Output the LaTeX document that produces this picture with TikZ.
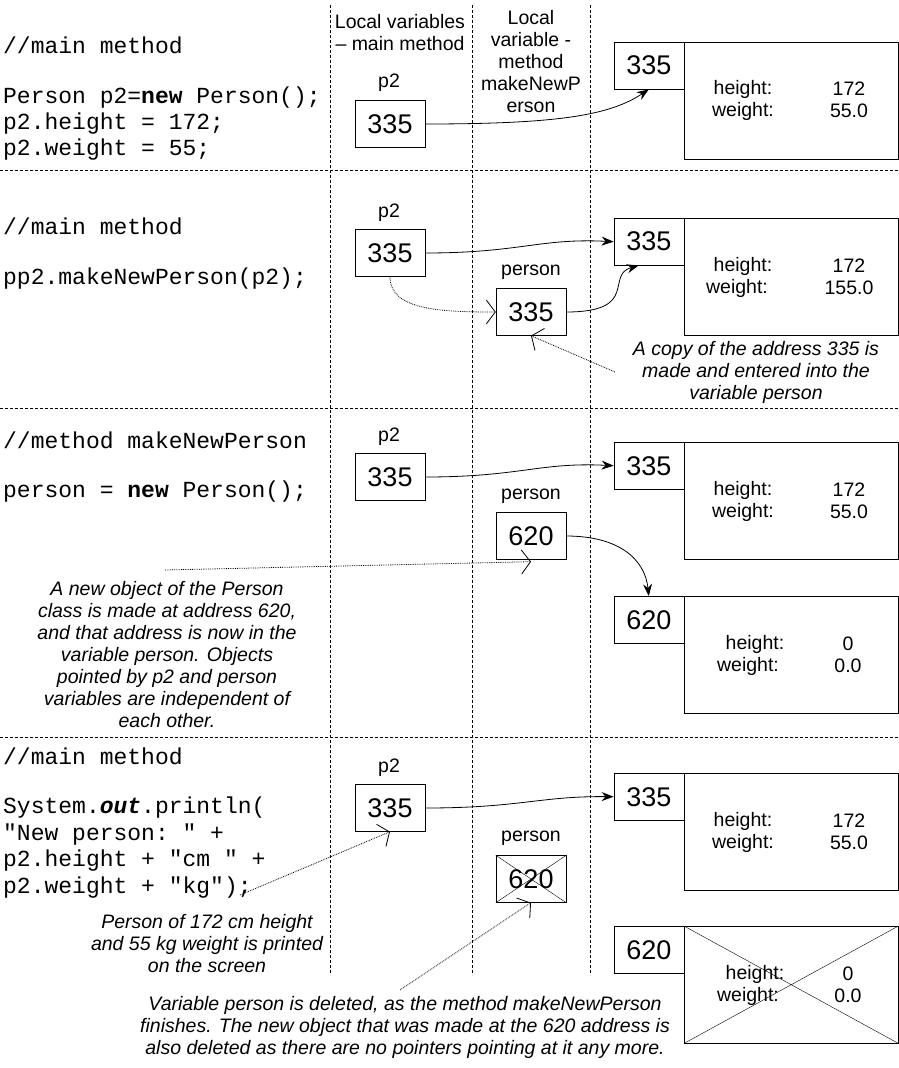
\documentclass[tikz,border=0pt]{standalone}
\usepackage{fontspec}
\setmainfont{Liberation Sans}
\setmonofont{Liberation Mono}
\usetikzlibrary{arrows.meta,positioning}

\tikzset{
  code/.style={anchor=west, inner sep=0pt, font=\fontsize{23}{26}\selectfont\ttfamily, align=left},
  lbl/.style={inner sep=0pt, font=\fontsize{19.5}{22}\selectfont},
  note/.style={inner sep=0pt, font=\fontsize{19.5}{22}\selectfont\itshape, align=center},
  var/.style={draw, minimum width=70pt, minimum height=47pt, inner sep=0pt, font=\fontsize{27}{30}\selectfont},
  addr/.style={draw, minimum width=70pt, minimum height=47pt, inner sep=0pt, font=\fontsize{27}{30}\selectfont},
  obj/.style={draw, minimum width=214pt, minimum height=117pt, inner sep=0pt},
  sep/.style={densely dashed, line width=0.6pt},
  ptr/.style={-{Stealth[length=12pt,width=9pt]}, line width=0.8pt},
  hint/.style={densely dotted, line width=0.8pt, -{Straight Barb[length=9pt,width=24pt]}}
}

\begin{document}
\begin{tikzpicture}[x=1pt,y=-1pt]
    \useasboundingbox (0,0) rectangle (898,1068);

    % Column and row separators
    \foreach \x in {330,472,590}
        \draw[sep] (\x,5) -- (\x,975);
    \foreach \y in {170,408,737}
        \draw[sep] (0,\y) -- (898,\y);

    % Column headings
    \node[lbl, align=center] (headmain) at (400,33) {Local variables\\– main method};
    \node[lbl, align=center] (headmeth) at (531,62) {Local\\variable -\\method\\makeNewP\\erson};

    % Panel 1
    \node[code] (c1a) at (3,45) {//main method};
    \node[code] (c1b) at (3,98) {Person p2=\textbf{new} Person();};
    \node[code] (c1c) at (3,124) {p2.height = 172;};
    \node[code] (c1d) at (3,150) {p2.weight = 55;};
    \node[lbl] (p2a) at (389,83) {p2};
    \node[var] (v1) at (390,124) {335};
    \node[obj, anchor=north west] (o1) at (684,42) {};
    \node[addr, anchor=north east] (a1) at (o1.north west) {335};
    \node[lbl] at (743,89) {height:};  \node[lbl] at (849,89) {172};
    \node[lbl] at (743,111) {weight:}; \node[lbl] at (849,111) {55.0};
    \draw[ptr] (v1.east) .. controls (560,124) and (610,115) .. (a1.south);

    % Panel 2
    \node[code] (c2a) at (3,226) {//main method};
    \node[code] (c2b) at (3,279) {pp2.makeNewPerson(p2);};
    \node[lbl] (p2b) at (389,213) {p2};
    \node[var] (v2) at (390,253) {335};
    \node[lbl] (pb) at (531,272) {person};
    \node[var] (w2) at (531,312) {335};
    \node[obj, anchor=north west] (o2) at (684,218) {};
    \node[addr, anchor=north east] (a2) at (o2.north west) {335};
    \node[lbl] at (743,266) {height:};  \node[lbl] at (849,266) {172};
    \node[lbl] at (737,288) {weight:}; \node[lbl] at (849,288) {155.0};
    \draw[ptr] (v2.east) .. controls (520,253) and (540,238) .. (a2.west);
    \draw[ptr] (w2.east) .. controls (640,312) and (605,275) .. ([xshift=-10pt]a2.south);
    \draw[hint] (v2.south) .. controls (390,310) and (440,312) .. (w2.west);
    \coordinate (n2tip) at (615,372);
    \draw[hint] (n2tip) -- (w2.south);
    \node[note] (n2) at (756,372) {A copy of the address 335 is\\made and entered into the\\variable person};

    % Panel 3
    \node[code] (c3a) at (3,440) {//method makeNewPerson};
    \node[code] (c3b) at (3,492) {person = \textbf{new} Person();};
    \node[lbl] (p2c) at (389,437) {p2};
    \node[var] (v3) at (390,477) {335};
    \node[lbl] (pc) at (531,496) {person};
    \node[var] (w3) at (531,536) {620};
    \node[obj, anchor=north west] (o3) at (684,442) {};
    \node[addr, anchor=north east] (a3) at (o3.north west) {335};
    \node[lbl] at (743,490) {height:};  \node[lbl] at (849,490) {172};
    \node[lbl] at (743,512) {weight:}; \node[lbl] at (849,512) {55.0};
    \node[obj, anchor=north west] (o4) at (684,596) {};
    \node[addr, anchor=north east] (a4) at (o4.north west) {620};
    \node[lbl] at (755,644) {height:};  \node[lbl] at (848,644) {0};
    \node[lbl] at (748,666) {weight:}; \node[lbl] at (848,666) {0.0};
    \draw[ptr] (v3.east) .. controls (520,477) and (540,462) .. (a3.west);
    \draw[ptr] (w3.east) .. controls (620,536) and (645,560) .. (a4.north);
    \coordinate (n3tip) at (165,570);
    \draw[hint] (n3tip) -- ([yshift=-2pt]w3.south);
    \node[note] (n3) at (167,655) {A new object of the Person\\class is made at address 620,\\and that address is now in the\\variable person. Objects\\pointed by p2 and person\\variables are independent of\\each other.};

    % Panel 4
    \node[code] (c4a) at (3,756) {//main method};
    \node[code] (c4b) at (3,808) {System.\textbf{\textit{out}}.println(};
    \node[code] (c4c) at (3,835) {"New person: " +};
    \node[code] (c4d) at (3,861) {p2.height + "cm " +};
    \node[code] (c4e) at (3,888) {p2.weight + "kg");};
    \node[lbl] (p2d) at (389,768) {p2};
    \node[var] (v4) at (390,808) {335};
    \node[lbl] (pd) at (531,838) {person};
    \node[var] (w4) at (531,879) {620};
    \draw (w4.north west) -- (w4.south east) (w4.north east) -- (w4.south west);
    \node[obj, anchor=north west] (o5) at (684,773) {};
    \node[addr, anchor=north east] (a5) at (o5.north west) {335};
    \node[lbl] at (743,821) {height:};  \node[lbl] at (849,821) {172};
    \node[lbl] at (743,843) {weight:}; \node[lbl] at (849,843) {55.0};
    \node[obj, anchor=north west] (o6) at (684,926) {};
    \node[addr, anchor=north east] (a6) at (o6.north west) {620};
    \node[lbl] at (755,974) {height:};  \node[lbl] at (848,974) {0};
    \node[lbl] at (748,996) {weight:}; \node[lbl] at (848,996) {0.0};
    \draw (o6.north west) -- (o6.south east) (o6.north east) -- (o6.south west);
    \draw[ptr] (v4.east) .. controls (520,808) and (540,796) .. (a5.west);
    \coordinate (n4tip) at (240,895);
    \draw[hint] (n4tip) -- (v4.south);
    \node[note] (n4) at (207,944) {Person of 172 cm height\\and 55 kg weight is printed\\on the screen};
    \coordinate (n5tip) at (400,990);
    \draw[hint] (n5tip) -- (w4.south);
    \node[note] (n5) at (405,1027) {Variable person is deleted, as the method makeNewPerson\\finishes. The new object that was made at the 620 address is\\also deleted as there are no pointers pointing at it any more.};
\end{tikzpicture}
\end{document}
